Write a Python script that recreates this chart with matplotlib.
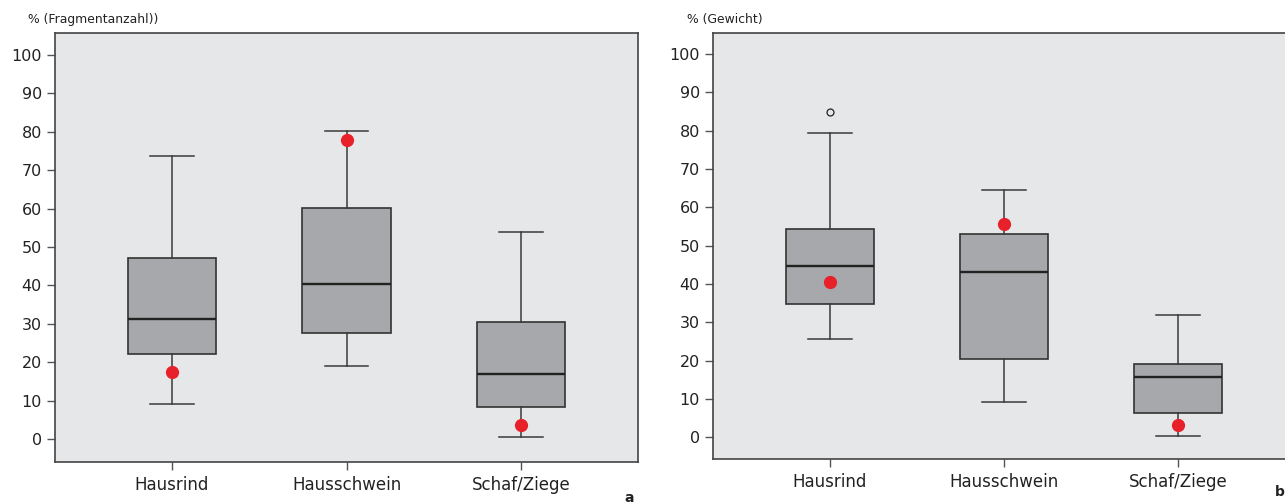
import matplotlib.pyplot as plt

categories = ["Hausrind", "Hausschwein", "Schaf/Ziege"]

# left panel: % (Fragmentanzahl)
frag_whislo = [9, 19, 0.5]
frag_q1 = [22.2, 27.5, 8.2]
frag_med = [31.2, 40.3, 17.0]
frag_q3 = [47.2, 60.2, 30.5]
frag_whishi = [73.8, 80.2, 54.0]
frag_red = [17.5, 77.8, 3.7]
frag_fliers = [[], [], []]

# right panel: % (Gewicht)
gew_whislo = [25.5, 9.2, 0.2]
gew_q1 = [34.8, 20.3, 6.4]
gew_med = [44.8, 43.0, 15.6]
gew_q3 = [54.4, 53.0, 19.1]
gew_whishi = [79.5, 64.6, 32.0]
gew_red = [40.6, 55.6, 3.1]
gew_fliers = [[85.0], [], []]

yticks = [0, 10, 20, 30, 40, 50, 60, 70, 80, 90, 100]

plt.rcParams['font.family'] = ['DejaVu Sans']

fig = plt.figure(figsize=(12.85, 5.03), dpi=100)
W, H = 1285.0, 503.0


def draw_panel(ax, whislo, q1, med, q3, whishi, fliers, red, ylim):
  stats = []
  for i in range(len(categories)):
    stats.append({"whislo": whislo[i], "q1": q1[i], "med": med[i],
                  "q3": q3[i], "whishi": whishi[i], "fliers": fliers[i]})
  ax.set_facecolor("#e6e7e9")
  ax.bxp(stats, positions=[1, 2, 3], widths=0.506, patch_artist=True,
         boxprops=dict(facecolor="#a7a8ab", edgecolor="#333333", linewidth=1.2),
         medianprops=dict(color="#222222", linewidth=1.7),
         whiskerprops=dict(color="#3a3a3a", linewidth=1.1),
         capprops=dict(color="#3a3a3a", linewidth=1.1),
         capwidths=0.25,
         flierprops=dict(marker="o", markersize=5, markerfacecolor="none",
                         markeredgecolor="#222222", markeredgewidth=0.9))
  ax.plot([1, 2, 3], red, "o", color="#e8202a", markersize=8.5, zorder=5)
  ax.set_xlim(0.33, 3.67)
  ax.set_ylim(*ylim)
  ax.set_yticks(yticks)
  ax.set_xticks([1, 2, 3])
  ax.set_xticklabels(categories, fontsize=12, color="#222222")
  for label in ax.get_yticklabels():
    label.set_fontsize(11.5)
    label.set_color("#222222")
  ax.tick_params(axis="both", direction="out", length=6, width=1, color="#555555")
  ax.tick_params(axis="x", pad=4)
  for s in ax.spines.values():
    s.set_color("#444444")
    s.set_linewidth(1.2)


# left axes: x 55..638, y 33..462
ax1 = fig.add_axes([55 / W, 1 - 462 / H, 583 / W, 429 / H])
draw_panel(ax1, frag_whislo, frag_q1, frag_med, frag_q3, frag_whishi,
           frag_fliers, frag_red, (-6.0, 105.7))

# right axes: x 713..1295 (cut off), y 33..459
ax2 = fig.add_axes([713 / W, 1 - 459 / H, 582 / W, 426 / H])
draw_panel(ax2, gew_whislo, gew_q1, gew_med, gew_q3, gew_whishi,
           gew_fliers, gew_red, (-5.7, 105.5))

fig.text(28 / W, 1 - 19 / H, "% (Fragmentanzahl))", fontsize=8.9, color="#222222", va="center")
fig.text(687 / W, 1 - 19 / H, "% (Gewicht)", fontsize=8.9, color="#222222", va="center")
fig.text(624 / W, 1 - 498 / H, "a", fontsize=10, fontweight="bold", color="#222222", va="center")
fig.text(1275 / W, 1 - 492 / H, "b", fontsize=10, fontweight="bold", color="#222222", va="center")

fig.savefig("out.png", dpi=100)
